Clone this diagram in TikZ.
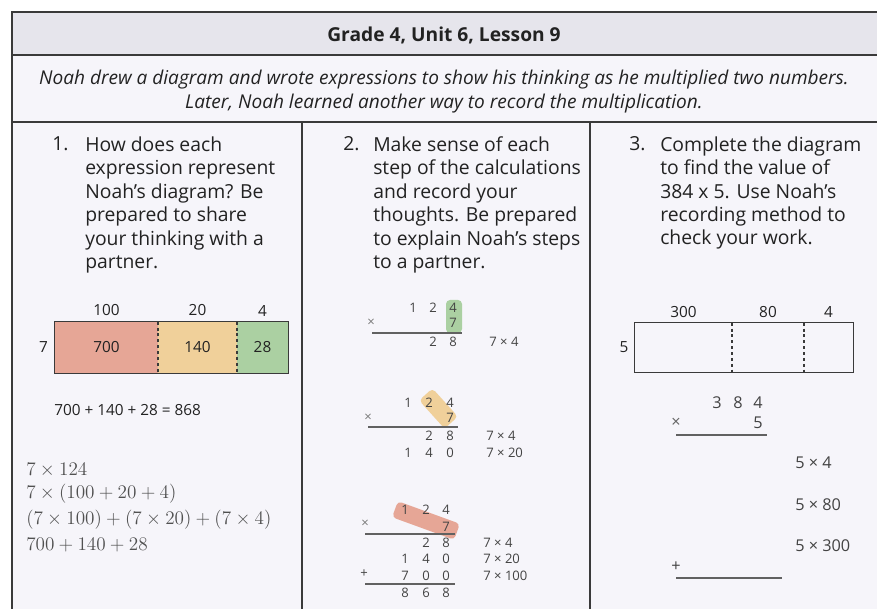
\documentclass[tikz,border=0pt]{standalone}
\usepackage[no-math]{fontspec}
\setmainfont{Open Sans}
\definecolor{paper}{HTML}{F6F5FA}
\definecolor{bandgray}{HTML}{E6E5EC}
\definecolor{ink}{HTML}{222222}
\definecolor{frame}{HTML}{3A3A3A}
\definecolor{mathgray}{HTML}{505050}
\definecolor{hundreds}{HTML}{E6A696}
\definecolor{tens}{HTML}{F0D09A}
\definecolor{ones}{HTML}{ABD0A2}
\usetikzlibrary{positioning}

\tikzset{
  qnum/.style={anchor=base west, inner sep=0pt, text=ink, font=\fontsize{14.5}{17.6}\selectfont},
  qtext/.style={qnum, align=left},
  num/.style={inner sep=0pt, text=ink, font=\fontsize{11.5}{14}\selectfont},
  calc/.style={inner sep=0pt, text=ink!85, font=\fontsize{9.8}{11}\selectfont},
  bigcalc/.style={inner sep=0pt, text=ink!85, font=\fontsize{12.2}{14}\selectfont},
  mathln/.style={anchor=west, inner sep=0pt, text=mathgray, font=\fontsize{14.8}{17}\selectfont},
  cell/.style={inner sep=0pt, minimum height={51*0.75pt}, text=ink, font=\fontsize{11.5}{14}\selectfont},
  opencell/.style={cell, minimum height={49*0.75pt}},
  divider/.style={frame, line width=1.3pt, dash pattern=on 2.2pt off 2.2pt},
  ruleline/.style={frame!80, line width=1pt},
  hilite/.style={rounded corners=3pt, inner sep=0pt}
}

\begin{document}
\begin{tikzpicture}[x=0.75pt, y=-0.75pt]
\useasboundingbox (0,0) rectangle (877,609);

% table
\fill[paper] (12,12) rectangle (877,609);
\fill[bandgray] (12,12) rectangle (877,55);
\draw[frame, line width=1.1pt] (877,12) -- (12,12) -- (12,609);
\draw[frame, line width=1.1pt] (12,55) -- (877,55);
\draw[frame, line width=1.1pt] (12,122) -- (877,122);
\draw[frame, line width=1.1pt] (302,122) -- (302,609);
\draw[frame, line width=1.1pt] (590,122) -- (590,609);

\node[text=ink, font=\bfseries\fontsize{14.4}{16}\selectfont] (title) at (444,35) {Grade 4, Unit 6, Lesson 9};
\node[text=ink, align=center, font=\itshape\fontsize{14.3}{18}\selectfont] (intro) at (444,91.5)
  {Noah drew a diagram and wrote expressions to show his thinking as he multiplied two numbers.\\
   Later, Noah learned another way to record the multiplication.};

% questions (base = last line)
\node[qnum] (q1n) at (52,151) {1.};
\node[qtext] (q1) at (85,268.5) {How does each\\expression represent\\Noah’s diagram? Be\\prepared to share\\your thinking with a\\partner.};
\node[qnum] (q2n) at (343,151) {2.};
\node[qtext] (q2) at (373,268.5) {Make sense of each\\step of the calculations\\and record your\\thoughts. Be prepared\\to explain Noah’s steps\\to a partner.};
\node[qnum] (q3n) at (629,151) {3.};
\node[qtext] (q3) at (660,245) {Complete the diagram\\to find the value of\\384 x 5. Use Noah’s\\recording method to\\check your work.};

% Noah's diagram
\node[cell, fill=hundreds, minimum width={103*0.75pt}] (c700) at (106.5,347.5) {700};
\node[cell, fill=tens, minimum width={79*0.75pt}] (c140) at (197.5,347.5) {140};
\node[cell, fill=ones, minimum width={51*0.75pt}] (c28) at (262.5,347.5) {28};
\draw[frame, line width=1.1pt] (c700.north west) rectangle (c28.south east);
\draw[divider] (c700.north east) -- (c700.south east);
\draw[divider] (c140.north east) -- (c140.south east);
\node[num, above=4pt of c700] (w100) {100};
\node[num, above=4pt of c140] (w20) {20};
\node[num, above=4pt of c28] (w4) {4};
\node[num, left=5pt of c700] (h7) {7};

\node[num, anchor=west] (sum) at (54,410) {700 + 140 + 28 = 868};

\node[mathln] (e1) at (26,470) {$7\times124$};
\node[mathln] (e2) at (26,494) {$7\times(100+20+4)$};
\node[mathln] (e3) at (26,520) {$(7\times100)+(7\times20)+(7\times4)$};
\node[mathln] (e4) at (26,545) {$700+140+28$};

% Noah's recording, step 1
\node[hilite, fill=ones, minimum width={16*0.75pt}, minimum height={33*0.75pt}] (g1) at (454,316.5) {};
\foreach \d/\x/\y/\n in {1/413/308/a1, 2/433/308/a2, 4/453/308/a3, 7/453/323/a4, 2/433/342/a5, 8/453/342/a6}
  \node[calc] (\n) at (\x,\y) {\d};
\node[calc, text=ink!60] (ax) at (371,323) {×};
\coordinate (ar1) at (372,333);
\coordinate (ar2) at (462,333);
\draw[ruleline] (ar1) -- (ar2);
\node[calc, anchor=west] (al1) at (489,342) {7 × 4};

% step 2
\node[hilite, fill=tens, rotate=-48, minimum width={38*0.75pt}, minimum height={18*0.75pt}] (y1) at (438.5,408.5) {};
\foreach \d/\x/\y/\n in {1/408/403/b1, 2/429/403/b2, 4/450/403/b3, 7/450/418/b4, 2/429/436/b5, 8/450/436/b6, 1/408/453/b7, 4/429/453/b8, 0/450/453/b9}
  \node[calc] (\n) at (\x,\y) {\d};
\node[calc, text=ink!60] (bx) at (368,418) {×};
\coordinate (br1) at (368,427);
\coordinate (br2) at (458,427);
\draw[ruleline] (br1) -- (br2);
\node[calc, anchor=west] (bl1) at (486,436) {7 × 4};
\node[calc, anchor=west] (bl2) at (486,453) {7 × 20};

% step 3
\node[hilite, fill=hundreds, rotate=-20, minimum width={66*0.75pt}, minimum height={17*0.75pt}] (r1) at (426,520.5) {};
\foreach \d/\x/\y/\n in {1/405/510/c1, 2/426/510/c2, 4/446/510/c3, 7/446/527/c4, 2/426/543/c5, 8/446/543/c6,
  1/405/559/c7, 4/426/559/c8, 0/446/559/c9, 7/405/576/c10, 0/426/576/c11, 0/446/576/c12,
  8/405/593/c13, 6/426/593/c14, 8/446/593/c15}
  \node[calc] (\n) at (\x,\y) {\d};
\node[calc, text=ink!60] (cx) at (365,524) {×};
\node[calc] (cplus) at (364,574) {+};
\coordinate (cr1) at (365,534);
\coordinate (cr2) at (455,534);
\coordinate (cr3) at (365,584);
\coordinate (cr4) at (455,584);
\draw[ruleline] (cr1) -- (cr2);
\draw[ruleline] (cr3) -- (cr4);
\node[calc, anchor=west] (cl1) at (483,543) {7 × 4};
\node[calc, anchor=west] (cl2) at (483,559) {7 × 20};
\node[calc, anchor=west] (cl3) at (483,576) {7 × 100};

% problem 3
\node[opencell, minimum width={97*0.75pt}] (d300) at (683.5,347.5) {};
\node[opencell, minimum width={72*0.75pt}] (d80) at (768,347.5) {};
\node[opencell, minimum width={49*0.75pt}] (d4) at (828.5,347.5) {};
\draw[frame, line width=1.1pt] (d300.north west) rectangle (d4.south east);
\draw[divider] (d300.north east) -- (d300.south east);
\draw[divider] (d80.north east) -- (d80.south east);
\node[num, above=3.5pt of d300] (v300) {300};
\node[num, above=3.5pt of d80] (v80) {80};
\node[num, above=3.5pt of d4] (v4) {4};
\node[num, left=4.5pt of d300] (h5) {5};

\foreach \d/\x/\y/\n in {3/717/403/t1, 8/738/403/t2, 4/758/403/t3, 5/758/423/t4}
  \node[bigcalc] (\n) at (\x,\y) {\d};
\node[bigcalc, text=ink!70] (tx) at (676,423) {×};
\node[bigcalc] (tplus) at (676,567) {+};
\coordinate (tr1) at (676,435);
\coordinate (tr2) at (767,435);
\coordinate (tr3) at (676,578);
\coordinate (tr4) at (782,578);
\draw[ruleline] (tr1) -- (tr2);
\draw[ruleline] (tr3) -- (tr4);
\node[bigcalc, anchor=west] (tl1) at (795,463) {5 × 4};
\node[bigcalc, anchor=west] (tl2) at (795,505) {5 × 80};
\node[bigcalc, anchor=west] (tl3) at (795,546) {5 × 300};
\end{tikzpicture}
\end{document}
